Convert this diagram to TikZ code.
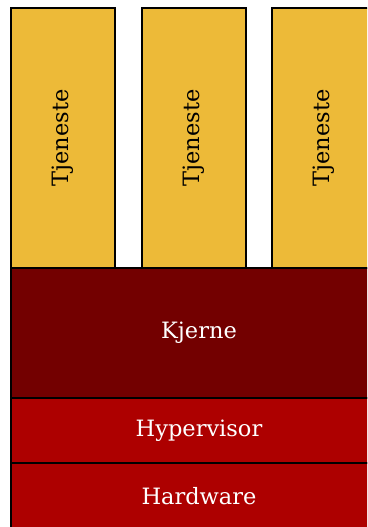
\documentclass[tikz,border=0pt]{standalone}
\usepackage{fontspec}
\usepackage{graphicx}
\setmainfont{DejaVu Serif}
\definecolor{svcyellow}{RGB}{237,186,56}
\definecolor{kernelred}{RGB}{115,0,0}
\definecolor{layerred}{RGB}{173,0,0}
\begin{document}
\begin{tikzpicture}[x=1pt,y=1pt,
  labelfont/.style={font=\fontsize{22.5}{26}\selectfont},
  block/.style={draw=black, line width=2.8pt, inner sep=0pt, outer sep=0pt, anchor=north west},
  svc/.style={block, fill=svcyellow, text=black, minimum width=104pt, minimum height=260pt, labelfont},
  layer/.style={block, text=white, minimum width=376pt, labelfont}]
\useasboundingbox (0,0) rectangle (367,527);
\clip (0,0) rectangle (367,527);
% service boxes
\node[svc] (s1) at (11,519) {\rotatebox{90}{Tjeneste}};
\node[svc] (s2) at (142,519) {\rotatebox{90}{Tjeneste}};
\node[svc] (s3) at (272,519) {\rotatebox{90}{Tjeneste}};
% stacked layers
\node[layer, fill=kernelred, minimum height=130pt] (kj) at (11,259) {Kjerne};
\node[layer, fill=layerred, minimum height=65pt] (hv) at (11,129) {Hypervisor};
\node[layer, fill=layerred, minimum height=66pt] (hw) at (11,64) {Hardware};
\end{tikzpicture}
\end{document}
